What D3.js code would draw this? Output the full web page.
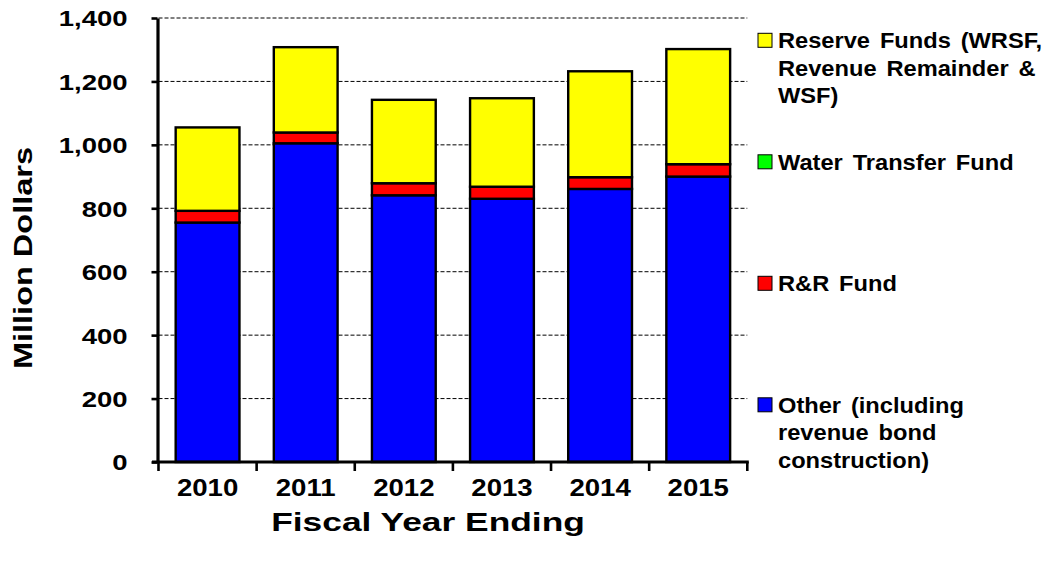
<!DOCTYPE html>
<html>
<head>
<meta charset="utf-8">
<script src="https://cdn.jsdelivr.net/npm/d3@7"></script>
<style>
  html, body { margin: 0; padding: 0; background: #fff; }
  svg { display: block; }
  text { font-family: "Liberation Sans", Arial, sans-serif; font-weight: bold; fill: #000; }
</style>
</head>
<body>
<svg id="chart" width="1047" height="563"></svg>
<script>
// Fund balances by fiscal year, million dollars
const years = ["2010", "2011", "2012", "2013", "2014", "2015"];
const other = [755, 1005, 841, 830, 861, 900];
const rrFund = [37, 34, 38, 38, 37, 39];
const waterTransfer = [0, 0, 0, 0, 0, 0];
const reserve = [263, 269, 263, 279, 334, 363];
const yTicks = [0, 200, 400, 600, 800, 1000, 1200, 1400];

// stacking order: bottom to top
const seriesKeys = ["other", "rr", "water", "reserve"];
const seriesColors = { other: "#0000FF", rr: "#FF0000", water: "#00FF00", reserve: "#FFFF00" };

// legend entries, listed top to bottom, each split into its printed lines
const legendItems = [
  { key: "reserve", lines: ["Reserve Funds (WRSF,", "Revenue Remainder &", "WSF)"] },
  { key: "water", lines: ["Water Transfer Fund"] },
  { key: "rr", lines: ["R&R Fund"] },
  { key: "other", lines: ["Other (including", "revenue bond", "construction)"] }
];

const rows = years.map((yr, i) => ({
  year: yr, other: other[i], rr: rrFund[i], water: waterTransfer[i], reserve: reserve[i]
}));

const svg = d3.select("#chart");

const x = d3.scaleBand()
  .domain(years)
  .range([158.5, 747.3])
  .paddingInner(0.35)
  .paddingOuter(0.175);

const y = d3.scaleLinear()
  .domain([0, 1400])
  .range([462, 18]);

// dashed gridlines
svg.append("g")
  .selectAll("line")
  .data(yTicks.filter(d => d > 0))
  .join("line")
  .attr("x1", x.range()[0])
  .attr("x2", x.range()[1])
  .attr("y1", d => y(d))
  .attr("y2", d => y(d))
  .attr("stroke", "#000")
  .attr("stroke-width", 1)
  .attr("stroke-dasharray", "4,2");

// stacked bars
const stacked = d3.stack().keys(seriesKeys)(rows);
svg.append("g")
  .selectAll("g")
  .data(stacked)
  .join("g")
  .attr("fill", s => seriesColors[s.key])
  .selectAll("rect")
  .data(s => s.filter(d => d[1] - d[0] > 0))
  .join("rect")
  .attr("x", d => x(d.data.year))
  .attr("width", x.bandwidth())
  .attr("y", d => y(d[1]))
  .attr("height", d => y(d[0]) - y(d[1]))
  .attr("stroke", "#000")
  .attr("stroke-width", 2.4);

// y axis
const yAxis = svg.append("g")
  .attr("transform", "translate(157.5,0)")
  .call(d3.axisLeft(y).tickValues(yTicks).tickFormat(d3.format(",")).tickSizeInner(6).tickSizeOuter(0));
yAxis.select(".domain").attr("stroke", "#000").attr("stroke-width", 3.2);
yAxis.selectAll(".tick line").attr("stroke", "#000").attr("stroke-width", 2.6);
yAxis.selectAll(".tick text")
  .attr("x", null)
  .attr("dy", "0.36em")
  .attr("text-anchor", "end")
  .attr("transform", "translate(-30,0) scale(1.25,1)")
  .style("font-size", "22px")
  .style("font-family", "\"Liberation Sans\", Arial, sans-serif")
  .style("font-weight", "bold");

// x axis: line, boundary ticks and year labels
const xAxis = svg.append("g");
const halfGap = (x.step() - x.bandwidth()) / 2;
const bounds = years.map(d => x(d) - halfGap).concat([x.range()[1]]);
xAxis.append("line")
  .attr("x1", 152).attr("x2", x.range()[1] + 1.5)
  .attr("y1", y(0)).attr("y2", y(0))
  .attr("stroke", "#000").attr("stroke-width", 3.2);
xAxis.selectAll("line.tk")
  .data(bounds)
  .join("line")
  .attr("class", "tk")
  .attr("x1", d => d).attr("x2", d => d)
  .attr("y1", y(0)).attr("y2", y(0) + 9)
  .attr("stroke", "#000").attr("stroke-width", 2.6);
xAxis.selectAll("text")
  .data(years)
  .join("text")
  .attr("transform", d => `translate(${x(d) + x.bandwidth() / 2},496) scale(1.2,1)`)
  .attr("text-anchor", "middle")
  .style("font-size", "23px")
  .text(d => d);

// axis titles
svg.append("text")
  .attr("transform", "translate(31.5,258) rotate(-90) scale(1.3,1)")
  .attr("text-anchor", "middle")
  .style("font-size", "25px")
  .text("Million Dollars");

svg.append("text")
  .attr("transform", "translate(428,531) scale(1.36,1)")
  .attr("text-anchor", "middle")
  .style("font-size", "26px")
  .text("Fiscal Year Ending");

// legend
const legend = svg.append("g").attr("transform", "translate(758,0)");
const entry = legend.selectAll("g")
  .data(legendItems)
  .join("g")
  .attr("transform", (d, i) => `translate(0,${48.3 + i * 121.5})`);
entry.append("rect")
  .attr("x", 0).attr("y", -15)
  .attr("width", 14).attr("height", 14)
  .attr("fill", d => seriesColors[d.key])
  .attr("stroke", "#000").attr("stroke-width", 1);
entry.selectAll("text")
  .data(d => d.lines)
  .join("text")
  .attr("transform", (d, j) => `translate(20,${j * 27.5}) scale(1.1,1)`)
  .style("font-size", "21.5px")
  .style("word-spacing", "3px")
  .text(d => d);
</script>
</body>
</html>
